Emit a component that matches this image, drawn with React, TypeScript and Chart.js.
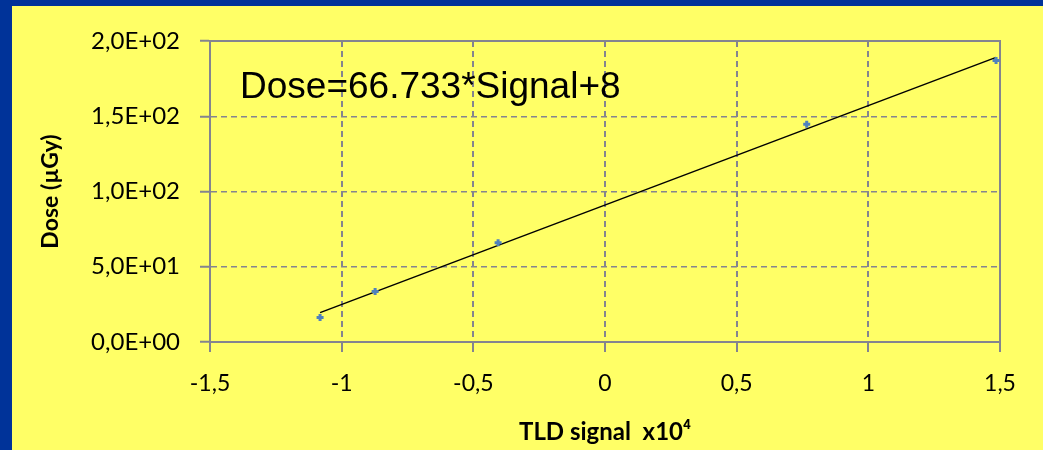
import React, { useEffect, useRef } from 'react';
import { Chart, registerables } from 'chart.js';

Chart.register(...registerables);

// Measured points (TLD signal x10^4, dose in µGy)
const signalValues = [-1.082, -0.873, -0.406, 0.766, 1.485];
const doseValues = [16.2, 33.5, 66.0, 144.7, 187.0];

// Trend line end points
const trendSignal = [-1.082, 1.485];
const trendDose = [19.5, 189.1];

const xTickLabels = ['-1,5', '-1', '-0,5', '0', '0,5', '1', '1,5'];
const yTickLabels = ['0,0E+00', '5,0E+01', '1,0E+02', '1,5E+02', '2,0E+02'];

const equationText = 'Dose=66.733*Signal+8';
const xTitle = 'TLD signal  x10\u2074';
const yTitle = 'Dose (\u00b5Gy)';

const GRID = '#84848f';
const PANEL = '#ffff66';
const FRAME_BLUE = '#003399';

export default function App() {
  const ref = useRef<HTMLCanvasElement>(null);

  useEffect(() => {
    if (!ref.current) return;

    const framePlugin = {
      id: 'frameAndEquation',
      beforeDatasetsDraw(chart: any) {
        const { ctx, chartArea } = chart;
        ctx.save();
        ctx.strokeStyle = GRID;
        ctx.lineWidth = 2;
        ctx.beginPath();
        ctx.moveTo(chartArea.left, chartArea.top);
        ctx.lineTo(chartArea.right, chartArea.top);
        ctx.lineTo(chartArea.right, chartArea.bottom);
        ctx.stroke();
        ctx.restore();
      },
      afterDraw(chart: any) {
        const { ctx } = chart;
        ctx.save();
        ctx.fillStyle = '#000000';
        ctx.font = '37px "Liberation Sans", Arial, sans-serif';
        ctx.textBaseline = 'alphabetic';
        ctx.textAlign = 'left';
        ctx.fillText(equationText, 228, 92);
        ctx.restore();
      },
    };

    const chart = new Chart(ref.current, {
      type: 'scatter',
      data: {
        datasets: [
          {
            label: 'Trend',
            data: trendSignal.map((x, i) => ({ x, y: trendDose[i] })),
            showLine: true,
            borderColor: '#000000',
            borderWidth: 1.5,
            pointRadius: 0,
            order: 2,
          },
          {
            label: 'Dose',
            data: signalValues.map((x, i) => ({ x, y: doseValues[i] })),
            showLine: false,
            pointStyle: 'cross',
            pointRadius: 3.5,
            borderWidth: 3,
            borderColor: '#4f81bd',
            backgroundColor: '#4f81bd',
            order: 1,
          },
        ],
      },
      options: {
        responsive: false,
        animation: false,
        layout: { padding: { top: 35, right: 43, left: 0, bottom: 0 } },
        plugins: {
          legend: { display: false },
          tooltip: { enabled: false },
        },
        scales: {
          x: {
            type: 'linear',
            min: -1.5,
            max: 1.5,
            afterFit: (s: any) => {
              s.height = 108;
            },
            ticks: {
              stepSize: 0.5,
              padding: 18,
              color: '#000000',
              font: { family: 'Lato, "DejaVu Sans", sans-serif', size: 23 },
              callback: (_v: any, i: number) => xTickLabels[i],
              maxRotation: 0,
            },
            grid: {
              color: GRID,
              lineWidth: 2,
              tickLength: 10,
              tickColor: GRID,
              tickWidth: 2,
            },
            border: { display: true, color: GRID, width: 2, dash: [6, 4] },
            title: {
              display: true,
              text: xTitle,
              color: '#000000',
              font: { family: 'Lato, "DejaVu Sans", sans-serif', size: 24, weight: 'bold' },
              padding: { top: 0, bottom: 3 },
            },
          },
          y: {
            type: 'linear',
            min: 0,
            max: 200,
            afterFit: (s: any) => {
              s.width = 198;
            },
            ticks: {
              stepSize: 50,
              padding: 20,
              color: '#000000',
              font: { family: 'Lato, "DejaVu Sans", sans-serif', size: 24 },
              callback: (_v: any, i: number) => yTickLabels[i],
            },
            grid: {
              color: GRID,
              lineWidth: 1.5,
              tickLength: 10,
              tickColor: GRID,
              tickWidth: 2,
            },
            border: { display: true, color: GRID, width: 2, dash: [6, 4] },
            title: {
              display: true,
              text: yTitle,
              color: '#000000',
              font: { family: 'Lato, "DejaVu Sans", sans-serif', size: 23, weight: 'bold' },
              padding: { top: 25, bottom: 0 },
            },
          },
        },
      },
      plugins: [framePlugin],
    } as any);

    return () => chart.destroy();
  }, []);

  return (
    <div
      style={{
        position: 'absolute',
        left: 0,
        top: 0,
        width: 1043,
        height: 450,
        background: FRAME_BLUE,
        overflow: 'hidden',
      }}
    >
      <div
        style={{
          position: 'absolute',
          left: 12,
          top: 6,
          width: 1031,
          height: 444,
          background: PANEL,
        }}
      >
        <canvas ref={ref} width={1031} height={444} style={{ display: 'block', width: 1031, height: 444 }} />
      </div>
    </div>
  );
}
